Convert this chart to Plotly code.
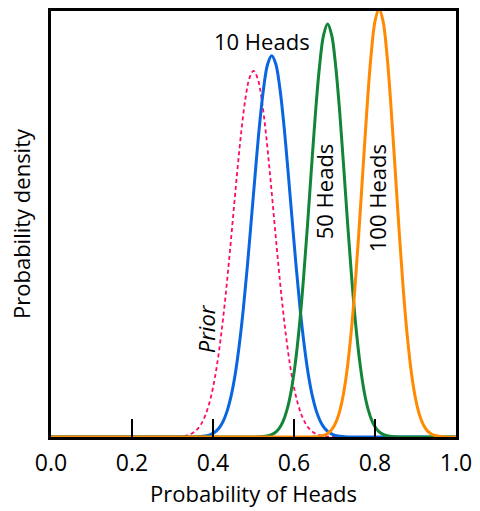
import plotly.graph_objects as go

# Values (y in fraction of plot height, peak of 100 Heads ~ top)
prior_x = [0.0, 0.30, 0.32, 0.33, 0.34, 0.35, 0.36, 0.37, 0.38, 0.39, 0.40, 0.41, 0.42, 0.43, 0.44,
           0.45, 0.46, 0.47, 0.48, 0.49, 0.50, 0.51, 0.52, 0.53, 0.54, 0.55, 0.56, 0.57, 0.58,
           0.59, 0.60, 0.61, 0.62, 0.63, 0.64, 0.65, 0.66, 0.67, 0.68, 0.70, 1.0]
prior_y = [0.0, 0.0003, 0.0013, 0.0026, 0.0051, 0.0095, 0.0169, 0.0290, 0.0478, 0.0757, 0.115,
           0.168, 0.237, 0.319, 0.414, 0.516, 0.618, 0.711, 0.786, 0.834, 0.851, 0.834, 0.786,
           0.711, 0.618, 0.516, 0.414, 0.319, 0.237, 0.168, 0.115, 0.0757, 0.0478, 0.0290,
           0.0169, 0.0095, 0.0051, 0.0026, 0.0013, 0.0003, 0.0]

heads10_x = [0.0, 0.345, 0.365, 0.375, 0.385, 0.395, 0.405, 0.415, 0.425, 0.435, 0.445, 0.455,
             0.465, 0.475, 0.485, 0.495, 0.505, 0.515, 0.525, 0.535, 0.545, 0.555, 0.565, 0.575,
             0.585, 0.595, 0.605, 0.615, 0.625, 0.635, 0.645, 0.655, 0.665, 0.675, 0.685, 0.695,
             0.705, 0.715, 0.725, 0.745, 1.0]
heads10_y = [0.0, 0.0001, 0.0007, 0.0015, 0.0030, 0.0061, 0.0115, 0.0209, 0.0364, 0.0607, 0.0966,
             0.147, 0.215, 0.299, 0.399, 0.509, 0.621, 0.726, 0.811, 0.867, 0.886, 0.867, 0.811,
             0.726, 0.621, 0.509, 0.399, 0.299, 0.215, 0.147, 0.0966, 0.0607, 0.0364, 0.0209,
             0.0115, 0.0061, 0.0030, 0.0015, 0.0007, 0.0001, 0.0]

heads50_x = [0.0, 0.483, 0.503, 0.513, 0.523, 0.533, 0.543, 0.553, 0.563, 0.573, 0.583, 0.593,
             0.603, 0.613, 0.623, 0.633, 0.643, 0.653, 0.663, 0.673, 0.683, 0.693, 0.703, 0.713,
             0.723, 0.733, 0.743, 0.753, 0.763, 0.773, 0.783, 0.793, 0.803, 0.813, 0.823, 0.833,
             0.843, 0.853, 0.863, 0.883, 1.0]
heads50_y = [0.0, 0.0001, 0.0002, 0.0004, 0.0010, 0.0022, 0.0048, 0.0100, 0.0196, 0.0364, 0.0642,
             0.107, 0.170, 0.255, 0.363, 0.488, 0.623, 0.753, 0.861, 0.934, 0.960, 0.934, 0.861,
             0.753, 0.623, 0.488, 0.363, 0.255, 0.170, 0.107, 0.0642, 0.0364, 0.0196, 0.0100,
             0.0048, 0.0022, 0.0010, 0.0004, 0.0002, 0.0001, 0.0]

heads100_x = [0.0, 0.61, 0.63, 0.64, 0.65, 0.66, 0.67, 0.68, 0.69, 0.70, 0.71, 0.72, 0.73, 0.74,
              0.75, 0.76, 0.77, 0.78, 0.79, 0.80, 0.81, 0.82, 0.83, 0.84, 0.85, 0.86, 0.87, 0.88,
              0.89, 0.90, 0.91, 0.92, 0.93, 0.94, 0.95, 0.96, 0.97, 0.98, 0.99, 1.0]
heads100_y = [0.0, 0.0, 0.0001, 0.0002, 0.0005, 0.0012, 0.0029, 0.0065, 0.0137, 0.0272, 0.0509,
              0.0895, 0.148, 0.232, 0.341, 0.473, 0.618, 0.761, 0.884, 0.966, 0.995, 0.966, 0.884,
              0.761, 0.618, 0.473, 0.341, 0.232, 0.148, 0.0895, 0.0509, 0.0272, 0.0137, 0.0065,
              0.0029, 0.0012, 0.0005, 0.0002, 0.0001, 0.0]

tick_vals = [0.0, 0.2, 0.4, 0.6, 0.8, 1.0]
tick_text = ["0.0", "0.2", "0.4", "0.6", "0.8", "1.0"]

FONT = "Open Sans"

fig = go.Figure()
fig.add_trace(go.Scatter(x=prior_x, y=prior_y, mode="lines",
                         line=dict(color="#FF0a6a", width=1.8, dash="4px,3px", shape="spline")))
fig.add_trace(go.Scatter(x=heads10_x, y=heads10_y, mode="lines",
                         line=dict(color="#0a66e0", width=3, shape="spline")))
fig.add_trace(go.Scatter(x=heads50_x, y=heads50_y, mode="lines",
                         line=dict(color="#138538", width=3, shape="spline")))
fig.add_trace(go.Scatter(x=heads100_x, y=heads100_y, mode="lines",
                         line=dict(color="#FF8a00", width=3, shape="spline")))

annots = [
    dict(x=0.521, y=0.921, text="10 Heads", textangle=0),
    dict(x=0.674, y=0.571, text="50 Heads", textangle=-90),
    dict(x=0.805, y=0.555, text="100 Heads", textangle=-90),
    dict(x=0.382, y=0.252, text="<i>Prior</i>", textangle=-90),
]
for a in annots:
    fig.add_annotation(x=a["x"], y=a["y"], xref="x", yref="y", text=a["text"],
                       textangle=a["textangle"], showarrow=False,
                       font=dict(family=FONT, size=22, color="black"))

fig.update_layout(
    width=480, height=511,
    margin=dict(l=51, r=17, t=8, b=74),
    paper_bgcolor="white", plot_bgcolor="white",
    showlegend=False,
    font=dict(family=FONT, color="black"),
)
fig.update_xaxes(
    range=[0, 1], tickvals=tick_vals, ticktext=tick_text,
    ticks="inside", ticklen=18, tickwidth=2, tickcolor="black",
    ticklabelstandoff=4,
    showline=True, linewidth=2.5, linecolor="black", mirror=True,
    showgrid=False, zeroline=False,
    tickfont=dict(family=FONT, size=23, color="black"),
    title=dict(text="Probability of Heads", font=dict(family=FONT, size=22, color="black"),
               standoff=6),
)
fig.update_yaxes(
    range=[0, 0.99], showticklabels=False, ticks="",
    showline=True, linewidth=2.5, linecolor="black", mirror=True,
    showgrid=False, zeroline=False,
    title=dict(text="Probability density", font=dict(family=FONT, size=22, color="black"),
               standoff=12),
)

fig.write_html("out.html")
